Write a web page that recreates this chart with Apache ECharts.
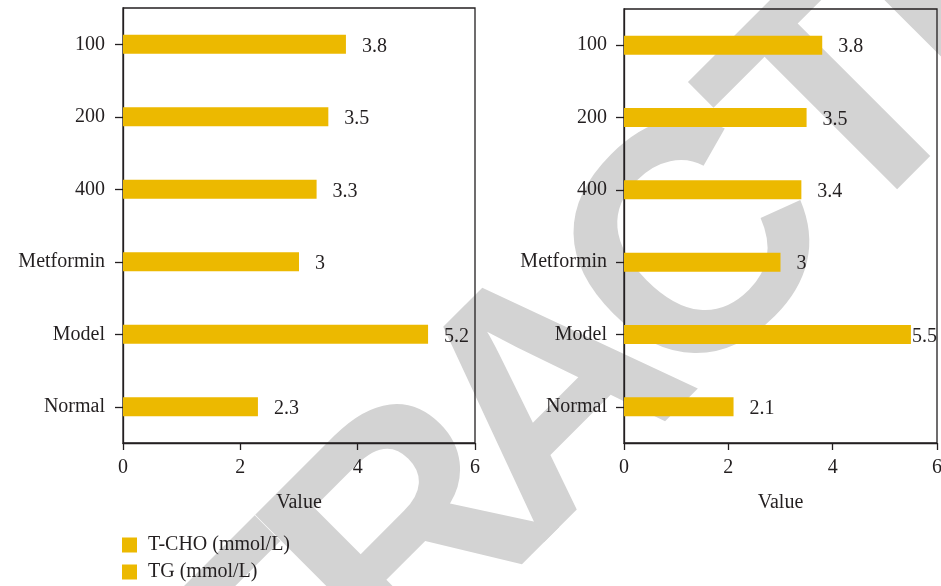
<!DOCTYPE html>
<html>
<head>
<meta charset="utf-8">
<script src="https://cdn.jsdelivr.net/npm/echarts@6/dist/echarts.min.js"></script>
<style>
  html, body { margin: 0; padding: 0; background: #fff; }
  #chart { width: 941px; height: 586px; }
</style>
</head>
<body>
<div id="chart"></div>
<script>
// Groups shown on both panels (top to bottom)
const categories = ['100', '200', '400', 'Metformin', 'Model', 'Normal'];
// Serum lipid levels per group
const tchoValues = [3.8, 3.5, 3.3, 3, 5.2, 2.3];
const tgValues = [3.8, 3.5, 3.4, 3, 5.5, 2.1];
// Value axis ticks
const valueTicks = [0, 2, 4, 6];
const seriesNames = ['T-CHO (mmol/L)', 'TG (mmol/L)'];

const FONT = 'Liberation Serif';
const FS = 20;
const TEXT = '#231f20';
const BAR = '#ECB900';
const AXIS = '#231f20';

// Diagonal "RETRACTED" stamp, laid out letter by letter along its baseline
const STAMP_TEXT = 'RETRACTED';
const STAMP_SIZE = 325;
const STAMP_CENTERS = [-665, -466, -280, -88, 110, 316, 524, 712, 915];

function stampLetters() {
  return STAMP_TEXT.split('').map((ch, i) => ({
    type: 'text',
    z: -100,
    silent: true,
    style: {
      text: ch,
      x: STAMP_CENTERS[i],
      y: -0.31 * STAMP_SIZE,
      align: 'center', verticalAlign: 'middle',
      fontFamily: 'Liberation Sans', fontWeight: 'bold', fontSize: STAMP_SIZE,
      fill: '#d3d3d3'
    }
  }));
}

function valueAxis(gridIndex) {
  return {
    type: 'value', gridIndex,
    min: valueTicks[0], max: valueTicks[valueTicks.length - 1],
    interval: valueTicks[1] - valueTicks[0],
    name: 'Value', nameLocation: 'middle', nameGap: 50,
    nameTextStyle: { fontFamily: FONT, fontSize: FS, color: TEXT },
    axisLine: { show: true, lineStyle: { color: AXIS, width: 1.3 } },
    axisTick: { show: true, length: 7, lineStyle: { color: AXIS, width: 1.3 } },
    axisLabel: { fontFamily: FONT, fontSize: FS, color: TEXT, margin: 15 },
    splitLine: { show: false }
  };
}

function categoryAxis(gridIndex, margin) {
  return {
    type: 'category', gridIndex, data: categories, inverse: true,
    axisLine: { show: true, lineStyle: { color: AXIS, width: 1.3 } },
    axisTick: { show: true, alignWithLabel: true, length: 8, lineStyle: { color: AXIS, width: 1.3 } },
    axisLabel: { fontFamily: FONT, fontSize: FS, color: TEXT, margin }
  };
}

function barSeries(name, values, axisIndex, tightIndex) {
  return {
    name, type: 'bar', xAxisIndex: axisIndex, yAxisIndex: axisIndex,
    barWidth: 19,
    itemStyle: { color: BAR },
    label: {
      show: true, position: 'right', distance: 16, offset: [0, 2],
      fontFamily: FONT, fontSize: FS, color: TEXT
    },
    data: values.map((v, i) => i === tightIndex
      ? { value: v, label: { distance: 1 } }
      : v)
  };
}

function legendFor(name, top) {
  return {
    orient: 'vertical', left: 122, top, padding: 0,
    itemWidth: 15, itemHeight: 15,
    icon: 'rect',
    data: [name],
    textStyle: { fontFamily: FONT, fontSize: FS, color: TEXT, padding: [0, 0, 0, 6] }
  };
}

const chart = echarts.init(document.getElementById('chart'), null, { renderer: 'canvas' });
chart.setOption({
  animation: false,
  backgroundColor: '#ffffff',
  graphic: [{
    type: 'group',
    z: -100,
    x: 551, y: 551,
    rotation: Math.PI / 4,
    silent: true,
    children: stampLetters()
  }],
  grid: [
    { left: 123, top: 8, width: 352, height: 435, show: true, borderColor: AXIS, borderWidth: 1.3, containLabel: false, outerBoundsMode: 'none' },
    { left: 624, top: 9, width: 313, height: 434, show: true, borderColor: AXIS, borderWidth: 1.3, containLabel: false, outerBoundsMode: 'none' }
  ],
  xAxis: [valueAxis(0), valueAxis(1)],
  yAxis: [categoryAxis(0, 18), categoryAxis(1, 17)],
  legend: [legendFor(seriesNames[0], 535), legendFor(seriesNames[1], 562)],
  series: [
    barSeries(seriesNames[0], tchoValues, 0, -1),
    barSeries(seriesNames[1], tgValues, 1, 4)
  ]
});
</script>
</body>
</html>
